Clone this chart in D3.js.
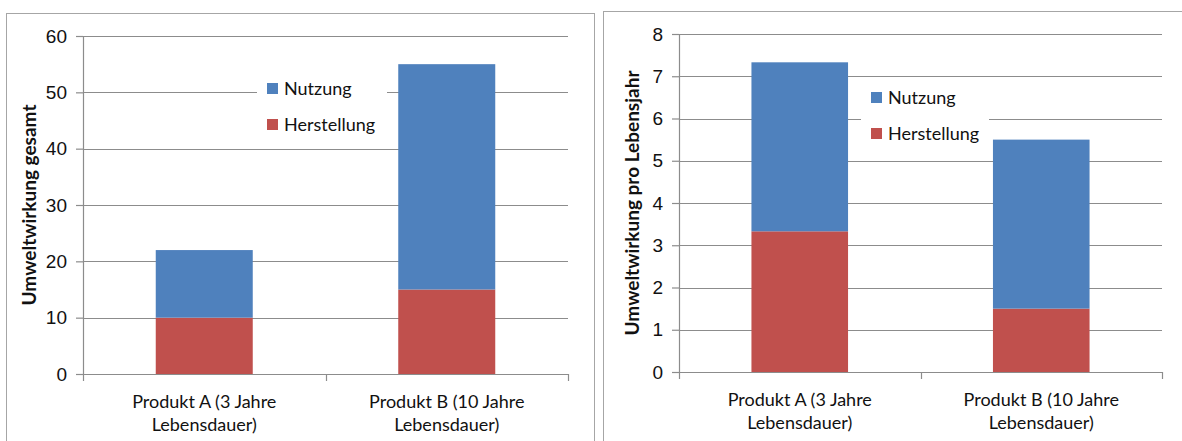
<!DOCTYPE html>
<html>
<head>
<meta charset="utf-8">
<script src="https://cdn.jsdelivr.net/npm/d3@7"></script>
<style>
  body { margin: 0; background: #fff; }
  svg { display: block; font-family: Lato, "Open Sans", sans-serif; }
  .tick text { font-size: 19px; fill: #111; }
  .axisTitle { font-size: 19px; font-weight: bold; fill: #111; }
  .legendText { font-size: 18px; fill: #111; }
</style>
</head>
<body>
<svg id="chart" width="1182" height="441"></svg>
<script>
var categories = ["Produkt A (3 Jahre|Lebensdauer)", "Produkt B (10 Jahre|Lebensdauer)"];
var seriesNames = ["Herstellung", "Nutzung"];
var colors = ["#C0504D", "#4F81BD"];

// left panel: total impact
var totalHerstellung = [10, 15];
var totalNutzung = [12, 40];
var totalTicks = [0, 10, 20, 30, 40, 50, 60];

// right panel: impact per year of life
var yearHerstellung = [3.33, 1.5];
var yearNutzung = [4, 4];
var yearTicks = [0, 1, 2, 3, 4, 5, 6, 7, 8];

var svg = d3.select("#chart");

function buildPanel(opt) {
	var g = svg.append("g");

	// panel border
	g.append("rect")
		.attr("x", opt.box[0] + 0.5).attr("y", opt.box[1] + 0.5)
		.attr("width", opt.box[2]).attr("height", opt.box[3])
		.attr("fill", "none").attr("stroke", "#a6a6a6");

	var x = d3.scaleBand().domain(categories).range([opt.left, opt.right]).paddingInner(0.6).paddingOuter(0.3);
	var y = d3.scaleLinear().domain([0, d3.max(opt.ticks)]).range([opt.bottom, opt.top]);

	// gridlines
	g.append("g").selectAll("line").data(opt.ticks.slice(1)).join("line")
		.attr("x1", opt.left).attr("x2", opt.right)
		.attr("y1", d => Math.round(y(d)) + 0.5).attr("y2", d => Math.round(y(d)) + 0.5)
		.attr("stroke", "#8c8c8c").attr("stroke-width", 1.2);

	// stacked bars
	var rows = categories.map((c, i) => ({cat: c, Herstellung: opt.h[i], Nutzung: opt.n[i]}));
	var stack = d3.stack().keys(seriesNames)(rows);
	g.append("g").selectAll("g").data(stack).join("g")
		.attr("fill", (d, i) => colors[i])
		.selectAll("rect").data(d => d).join("rect")
		.attr("x", d => x(d.data.cat))
		.attr("width", x.bandwidth())
		.attr("y", d => y(d[1]))
		.attr("height", d => y(d[0]) - y(d[1]));

	// legend with white background covering gridline
	var lg = g.append("g").attr("transform", "translate(" + opt.legend[0] + "," + opt.legend[1] + ")");
	lg.append("rect").attr("x", -10).attr("y", -10).attr("width", opt.legendW).attr("height", 66).attr("fill", "#fff");
	["Nutzung", "Herstellung"].forEach(function(name, i) {
		lg.append("rect").attr("x", 0).attr("y", i * 36).attr("width", 11).attr("height", 11)
			.attr("fill", colors[seriesNames.indexOf(name)]);
		lg.append("text").attr("class", "legendText").attr("x", 17).attr("y", i * 36 + 12).text(name);
	});

	// y axis
	var yAxis = g.append("g")
		.attr("transform", "translate(" + opt.left + ",0)")
		.call(d3.axisLeft(y).tickValues(opt.ticks).tickSize(7).tickPadding(9).tickFormat(d3.format("d")));
	yAxis.selectAll("line,path").attr("stroke", "#8c8c8c").attr("stroke-width", 1.2);
	yAxis.select(".domain").attr("d", "M0.5," + opt.top + "V" + opt.bottom);

	// x axis
	var xAxis = g.append("g").attr("transform", "translate(0," + opt.bottom + ")");
	xAxis.append("line").attr("x1", opt.left - 7).attr("x2", opt.right)
		.attr("y1", 0.5).attr("y2", 0.5).attr("stroke", "#8c8c8c").attr("stroke-width", 1.2);
	var bounds = [opt.left, (opt.left + opt.right) / 2, opt.right];
	xAxis.selectAll(".ct").data(bounds).join("line")
		.attr("x1", d => Math.round(d) + 0.5).attr("x2", d => Math.round(d) + 0.5)
		.attr("y1", 0).attr("y2", 7).attr("stroke", "#8c8c8c").attr("stroke-width", 1.2);
	categories.forEach(function(c) {
		var t = xAxis.append("text").attr("class", "legendText").attr("text-anchor", "middle")
			.attr("x", x(c) + x.bandwidth() / 2).attr("y", 34);
		c.split("|").forEach(function(line, i) {
			t.append("tspan").attr("x", x(c) + x.bandwidth() / 2).attr("dy", i ? 23 : 0).text(line);
		});
	});

	// y title
	g.append("text").attr("class", "axisTitle")
		.attr("transform", "translate(" + opt.titleX + "," + ((opt.top + opt.bottom) / 2) + ") rotate(-90)")
		.attr("text-anchor", "middle").text(opt.title);
}

buildPanel({
	box: [6, 13, 588, 440], left: 83, right: 568, top: 36, bottom: 374,
	ticks: totalTicks, h: totalHerstellung, n: totalNutzung,
	legend: [267, 83], legendW: 130, titleX: 36, title: "Umweltwirkung gesamt"
});

buildPanel({
	box: [603, 11, 590, 440], left: 679, right: 1162, top: 34, bottom: 372,
	ticks: yearTicks, h: yearHerstellung, n: yearNutzung,
	legend: [871, 92], legendW: 128, titleX: 639, title: "Umweltwirkung pro Lebensjahr"
});
</script>
</body>
</html>
